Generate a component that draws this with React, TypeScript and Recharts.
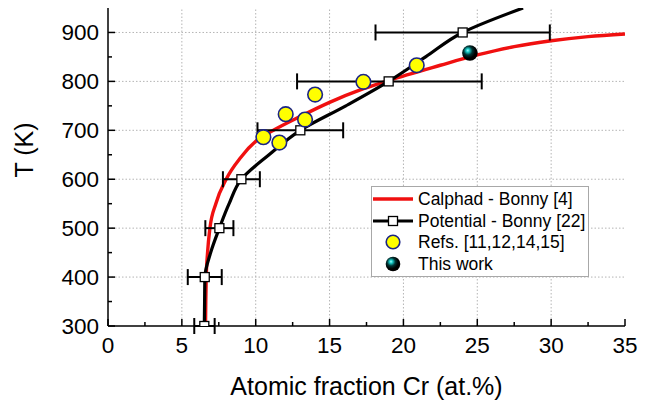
import { ComposedChart, Line, Scatter, XAxis, YAxis, ErrorBar, ReferenceLine, Legend } from 'recharts';

const FONT = '"Liberation Sans", Arial, Helvetica, sans-serif';

// axis ticks (majors carry labels, the rest are minor marks)
const xTicks = [0, 2.5, 5, 7.5, 10, 12.5, 15, 17.5, 20, 22.5, 25, 27.5, 30, 32.5, 35];
const yTicks = [300, 350, 400, 450, 500, 550, 600, 650, 700, 750, 800, 850, 900];
const xGrid = [5, 10, 15, 20, 25, 30];
const yGrid = [400, 500, 600, 700, 800, 900];

// Calphad solubility limit - Bonny [4]
const calphadX = [6.6, 6.62, 6.65, 6.74, 6.9, 7.3, 8.0, 9.0, 10.1, 11.2, 13.0, 15.0, 17.3, 19.0, 22.5, 25.0, 27.5, 30.0, 32.5, 35.0];
const calphadT = [300, 350, 400, 450, 500, 550, 600, 645, 680, 700, 728, 757, 785, 802, 833, 854, 871, 883, 891.5, 897];

// interatomic potential curve - Bonny [22]
const potentialX = [6.52, 6.54, 6.56, 6.95, 7.54, 8.2, 9.03, 10.9, 13.02, 16.1, 19.0, 21.5, 24.01, 28.1];
const potentialT = [300, 350, 400, 450, 500, 550, 600, 650, 700, 750, 800, 850, 900, 950];

// simulated points with their spread in Cr content
const simX = [6.52, 6.55, 7.54, 9.03, 13.02, 19.0, 24.01];
const simT = [300, 400, 500, 600, 700, 800, 900];
const simErrLow = [0.68, 1.15, 0.95, 1.25, 2.9, 6.2, 5.9];
const simErrHigh = [0.7, 1.15, 0.95, 1.25, 2.9, 6.3, 5.9];

// experimental data, Refs. [11,12,14,15]
const refX = [10.52, 11.6, 12.03, 13.34, 14.02, 17.29, 20.9];
const refT = [686, 675, 733, 722, 773, 799, 833];

// this work
const workX = [24.5];
const workT = [858];

const seriesNames = ['Calphad - Bonny [4]', 'Potential - Bonny [22]', 'Refs. [11,12,14,15]', 'This work'];

const calphadData = calphadX.map((x, i) => ({ x, t: calphadT[i] }));
const potentialData = potentialX.map((x, i) => ({ x, t: potentialT[i] }));
const simData = simX.map((x, i) => ({ x, t: simT[i], xErr: [simErrLow[i], simErrHigh[i]] }));
const refData = refX.map((x, i) => ({ x, t: refT[i] }));
const workData = workX.map((x, i) => ({ x, t: workT[i] }));

const isMajorX = (v: number) => Math.abs(v % 5) < 1e-6;
const isMajorY = (v: number) => Math.abs(v % 100) < 1e-6;

function BottomTick({ x, y, payload }: any) {
  const major = isMajorX(payload.value);
  return (
    <g>
      <line x1={x} y1={y} x2={x} y2={y - (major ? 7 : 4)} stroke="#000" strokeWidth={1.5} />
      {major && (
        <text x={x} y={y + 27} textAnchor="middle" fontSize={22.5} fontFamily={FONT} fill="#000">
          {payload.value}
        </text>
      )}
    </g>
  );
}

function TopTick({ x, y, payload }: any) {
  const major = isMajorX(payload.value);
  return <line x1={x} y1={y} x2={x} y2={y + (major ? 7 : 4)} stroke="#000" strokeWidth={1.5} />;
}

function LeftTick({ x, y, payload }: any) {
  const major = isMajorY(payload.value);
  return (
    <g>
      <line x1={x} y1={y} x2={x + (major ? 7 : 4)} y2={y} stroke="#000" strokeWidth={1.5} />
      {major && (
        <text x={x - 9} y={y + 8} textAnchor="end" fontSize={22.5} fontFamily={FONT} fill="#000">
          {payload.value}
        </text>
      )}
    </g>
  );
}

function RightTick({ x, y, payload }: any) {
  const major = isMajorY(payload.value);
  return <line x1={x} y1={y} x2={x - (major ? 7 : 4)} y2={y} stroke="#000" strokeWidth={1.5} />;
}

function XTitle({ viewBox }: any) {
  return (
    <text x={viewBox.x + viewBox.width / 2} y={viewBox.y + 69} textAnchor="middle" fontSize={25} fontFamily={FONT} fill="#000">
      Atomic fraction Cr (at.%)
    </text>
  );
}

function YTitle({ viewBox }: any) {
  const bx = viewBox.x + 33;
  const cy = viewBox.y + 142;
  return (
    <text x={bx} y={cy} transform={`rotate(-90, ${bx}, ${cy})`} textAnchor="middle" fontSize={25} fontFamily={FONT} fill="#000">
      T (K)
    </text>
  );
}

function SquareDot({ cx, cy }: any) {
  return <rect x={cx - 4.5} y={cy - 4.5} width={9} height={9} fill="#fff" stroke="#000" strokeWidth={1.3} />;
}

function YellowDot({ cx, cy }: any) {
  return <circle cx={cx} cy={cy} r={7.3} fill="#ffff00" stroke="#1c2585" strokeWidth={1.6} />;
}

function SphereGradient({ id }: { id: string }) {
  return (
    <defs>
      <radialGradient id={id} cx="0.4" cy="0.38" r="0.62" fx="0.36" fy="0.33">
        <stop offset="0" stopColor="#9ffffc" />
        <stop offset="0.18" stopColor="#19c9c6" />
        <stop offset="0.45" stopColor="#033" />
        <stop offset="0.75" stopColor="#000" />
        <stop offset="1" stopColor="#000" />
      </radialGradient>
    </defs>
  );
}

function SphereDot({ cx, cy }: any) {
  return (
    <g>
      <SphereGradient id="sphere-plot" />
      <circle cx={cx} cy={cy} r={7.8} fill="url(#sphere-plot)" />
    </g>
  );
}

function LegendBox() {
  const icons = [
    <line key="a" x1={1} y1={10} x2={41} y2={10} stroke="#f01010" strokeWidth={3.4} />,
    <g key="b">
      <line x1={1} y1={10} x2={41} y2={10} stroke="#000" strokeWidth={3.2} />
      <rect x={16.5} y={5.5} width={9} height={9} fill="#fff" stroke="#000" strokeWidth={1.3} />
    </g>,
    <circle key="c" cx={21} cy={10} r={6.8} fill="#ffff00" stroke="#1c2585" strokeWidth={1.6} />,
    <g key="d">
      <SphereGradient id="sphere-legend" />
      <circle cx={21} cy={10} r={7.3} fill="url(#sphere-legend)" />
    </g>,
  ];
  return (
    <div
      style={{
        width: 216,
        height: 88,
        border: '1.5px solid #a8a8a8',
        background: '#fff',
        paddingTop: 1,
        boxSizing: 'content-box',
        fontFamily: FONT,
        fontSize: 17.5,
        color: '#000',
      }}
    >
      {seriesNames.map((name, i) => (
        <div key={name} style={{ display: 'flex', alignItems: 'center', height: 21.7 }}>
          <svg width={46} height={20} style={{ flex: 'none' }}>
            {icons[i]}
          </svg>
          <span style={{ whiteSpace: 'nowrap', lineHeight: '20px' }}>{name}</span>
        </div>
      ))}
    </div>
  );
}

export default function App() {
  return (
    <div style={{ position: 'absolute', left: 0, top: 0, width: 654, height: 404, background: '#fff' }}>
      <ComposedChart width={654} height={404} margin={{ top: 8, right: 29, bottom: 0, left: 0 }}>
        <XAxis
          xAxisId="top"
          orientation="top"
          type="number"
          dataKey="x"
          domain={[0, 35]}
          ticks={xTicks}
          interval={0}
          height={0}
          tickSize={0}
          tickMargin={0}
          tickLine={false}
          tick={(p: any) => <TopTick {...p} />}
          axisLine={{ stroke: '#000', strokeWidth: 1.5 }}
          allowDataOverflow
        />
        <XAxis
          type="number"
          dataKey="x"
          domain={[0, 35]}
          ticks={xTicks}
          interval={0}
          height={78}
          tickSize={0}
          tickMargin={0}
          tickLine={false}
          tick={(p: any) => <BottomTick {...p} />}
          axisLine={{ stroke: '#000', strokeWidth: 1.5 }}
          label={(p: any) => <XTitle {...p} />}
          allowDataOverflow
        />
        <YAxis
          type="number"
          dataKey="t"
          domain={[300, 950]}
          ticks={yTicks}
          interval={0}
          width={108}
          tickSize={0}
          tickMargin={0}
          tickLine={false}
          tick={(p: any) => <LeftTick {...p} />}
          axisLine={{ stroke: '#000', strokeWidth: 1.5 }}
          label={(p: any) => <YTitle {...p} />}
          allowDataOverflow
        />
        <YAxis
          yAxisId="right"
          orientation="right"
          type="number"
          dataKey="t"
          domain={[300, 950]}
          ticks={yTicks}
          interval={0}
          width={0}
          tickSize={0}
          tickMargin={0}
          tickLine={false}
          tick={(p: any) => <RightTick {...p} />}
          axisLine={{ stroke: '#000', strokeWidth: 1.5 }}
          allowDataOverflow
        />

        {xGrid.map((v) => (
          <ReferenceLine key={`gx${v}`} x={v} stroke="#b4b4b4" strokeWidth={1} strokeDasharray="1.5 2" />
        ))}
        {yGrid.map((v) => (
          <ReferenceLine key={`gy${v}`} y={v} stroke="#b4b4b4" strokeWidth={1} strokeDasharray="1.5 2" />
        ))}

        <Line
          name={seriesNames[0]}
          data={calphadData}
          dataKey="t"
          type="monotoneX"
          stroke="#f01010"
          strokeWidth={3.4}
          dot={false}
          activeDot={false}
          isAnimationActive={false}
        />
        <Line
          name={seriesNames[1]}
          data={potentialData}
          dataKey="t"
          type="monotoneY"
          stroke="#000"
          strokeWidth={3.2}
          dot={false}
          activeDot={false}
          isAnimationActive={false}
        />
        <Scatter name={seriesNames[1]} data={simData} dataKey="t" shape={(p: any) => <SquareDot {...p} />} isAnimationActive={false}>
          <ErrorBar dataKey="xErr" direction="x" width={8} stroke="#000" strokeWidth={2} isAnimationActive={false} />
        </Scatter>
        <Scatter name={seriesNames[2]} data={refData} dataKey="t" shape={(p: any) => <YellowDot {...p} />} isAnimationActive={false} />
        <Scatter name={seriesNames[3]} data={workData} dataKey="t" shape={(p: any) => <SphereDot {...p} />} isAnimationActive={false} />

        <Legend
          layout="vertical"
          align="center"
          verticalAlign="middle"
          content={() => <LegendBox />}
          wrapperStyle={{ left: 371, top: 186, width: 219, height: 91 }}
        />
      </ComposedChart>
    </div>
  );
}
